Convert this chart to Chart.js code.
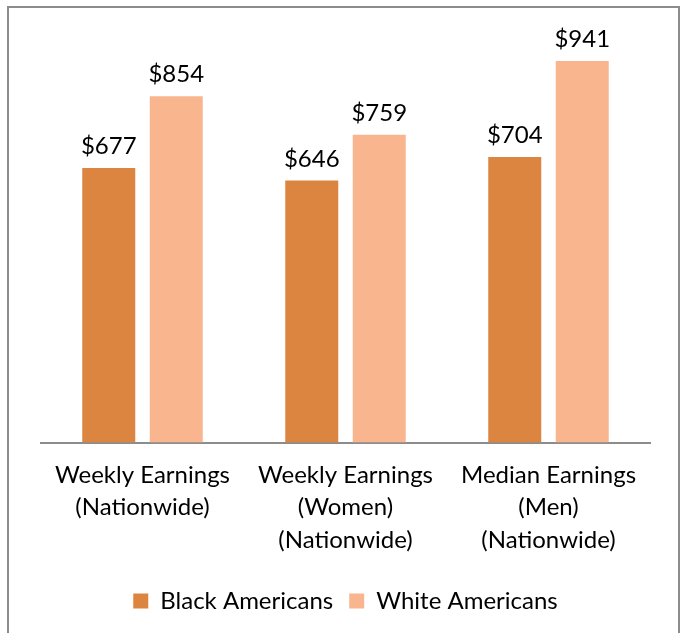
<!DOCTYPE html>
<html><head><meta charset="utf-8">
<script src="https://cdn.jsdelivr.net/npm/chart.js@4.4.0/dist/chart.umd.min.js"></script>
<style>html,body{margin:0;padding:0;background:#fff;}#wrap{width:681px;height:633px;position:relative;}</style>
</head><body><div id="wrap"><canvas id="c" width="681" height="633"></canvas></div>
<script>
const categories = [["Weekly Earnings","(Nationwide)"],["Weekly Earnings","(Women)","(Nationwide)"],["Median Earnings","(Men)","(Nationwide)"]];
const seriesNames = ["Black Americans","White Americans"];
const blackValues = [677,646,704];
const whiteValues = [854,759,941];
const colors = ["#DB8540","#F9B58E"];
const FONT = "Lato, 'Open Sans', sans-serif";

const frame = {id:'frame', beforeDraw(chart){const c=chart.ctx;c.save();c.strokeStyle='#8c8c8c';c.lineWidth=2;c.strokeRect(8,7,671,640);c.restore();}};
const valueLabels = {id:'vl', afterDatasetsDraw(chart){const c=chart.ctx;c.save();c.font='24px '+FONT;c.fillStyle='#000';c.textAlign='center';c.textBaseline='alphabetic';
 chart.data.datasets.forEach((ds,i)=>{chart.getDatasetMeta(i).data.forEach((el,j)=>{c.fillText('$'+ds.data[j],el.x,el.y-14);});});c.restore();}};

new Chart(document.getElementById('c'),{
 type:'bar',
 data:{labels:categories,datasets:[
  {label:seriesNames[0],data:blackValues,backgroundColor:colors[0]},
  {label:seriesNames[1],data:whiteValues,backgroundColor:colors[1]}]},
 options:{responsive:false,animation:false,
  categoryPercentage:0.665,barPercentage:0.785,
  layout:{padding:{left:41,right:31,top:37,bottom:10}},
  scales:{
   x:{grid:{display:false,drawTicks:false},border:{display:true,color:'#8c8c8c',width:2},
      ticks:{color:'#000',font:{family:FONT,size:24,lineHeight:1.34},padding:17,maxRotation:0,autoSkip:false}},
   y:{display:false,min:0,max:1000}},
  plugins:{legend:{position:'bottom',labels:{color:'#000',font:{family:FONT,size:24},boxWidth:15,boxHeight:15,padding:16}},tooltip:{enabled:false}}
 },
 plugins:[frame,valueLabels]
});
</script></body></html>
